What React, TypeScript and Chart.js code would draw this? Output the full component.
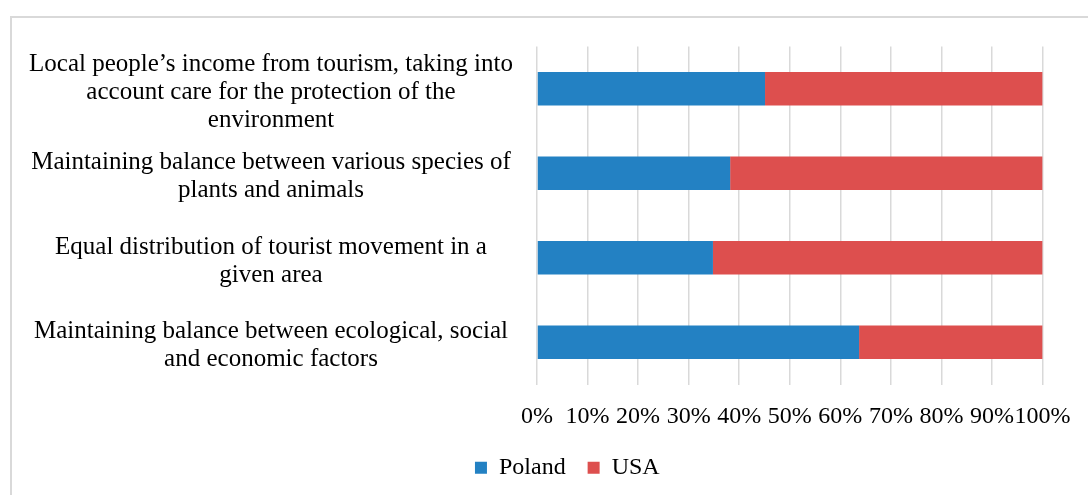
import React, { useEffect, useRef } from "react";
import { Chart, registerables } from "chart.js";

Chart.register(...registerables);

const FONT = '"Liberation Serif", "Times New Roman", serif';

const categories: string[][] = [
  ["Local people’s income from tourism, taking into", "account care for the protection of the", "environment"],
  ["Maintaining balance between various species of", "plants and animals"],
  ["Equal distribution of tourist movement in a", "given area"],
  ["Maintaining balance between ecological, social", "and economic factors"],
];

const seriesNames = ["Poland", "USA"];
const polandValues = [45.1, 38.2, 34.8, 63.7];
const usaValues = [54.9, 61.8, 65.2, 36.3];
const seriesColors = ["#2381c3", "#dd4f4e"];

const xMin = 0;
const xMax = 100;
const xStep = 10;

const LABEL_SIZE = 25;

export default function App() {
  const ref = useRef<HTMLCanvasElement>(null);

  useEffect(() => {
    const canvas = ref.current!;
    const ctx = canvas.getContext("2d")!;
    ctx.font = `${LABEL_SIZE}px ${FONT}`;
    let widest = 0;
    categories.forEach((lines) =>
      lines.forEach((l) => {
        widest = Math.max(widest, ctx.measureText(l).width);
      })
    );
    const yPad = 537 - 271 - widest / 2;

    const chart = new Chart(canvas, {
      type: "bar",
      data: {
        labels: categories,
        datasets: [
          {
            label: seriesNames[0],
            data: polandValues,
            backgroundColor: seriesColors[0],
            borderWidth: 0,
            barPercentage: 0.397,
            categoryPercentage: 1,
          },
          {
            label: seriesNames[1],
            data: usaValues,
            backgroundColor: seriesColors[1],
            borderWidth: 0,
            barPercentage: 0.397,
            categoryPercentage: 1,
          },
        ],
      },
      options: {
        indexAxis: "y",
        responsive: false,
        animation: false,
        layout: { padding: { left: 91.6, right: 45, top: 46.4, bottom: 5.3 } },
        plugins: {
          legend: {
            position: "bottom",
            labels: {
              font: { family: FONT, size: 24 },
              color: "#000",
              boxWidth: 12,
              boxHeight: 12,
              padding: 22,
            },
          },
          tooltip: { enabled: false },
        },
        scales: {
          x: {
            stacked: true,
            min: xMin,
            max: xMax,
            grid: { color: "#d9d9d9", lineWidth: 1.5, drawTicks: false },
            border: { display: false },
            ticks: {
              stepSize: xStep,
              autoSkip: false,
              maxRotation: 0,
              minRotation: 0,
              padding: 17.4,
              color: "#000",
              font: { family: FONT, size: 24, lineHeight: 1.2 },
              callback: (v: any) => v + "%",
            },
            afterFit: (s: any) => {
              s.height = 49.2;
            },
          },
          y: {
            stacked: true,
            grid: { display: false, drawTicks: false },
            border: { display: false },
            ticks: {
              crossAlign: "center",
              padding: yPad,
              labelOffset: 3.5,
              autoSkip: false,
              color: "#000",
              font: { family: FONT, size: LABEL_SIZE, lineHeight: 28 / LABEL_SIZE },
            },
            afterFit: (s: any) => {
              s.width = 445.4;
              s.paddingTop = 0;
              s.paddingBottom = 0;
              s._computeLabelArea = () => undefined;
            },
          },
        },
      },
    } as any);
    return () => chart.destroy();
  }, []);

  return (
    <div
      style={{
        position: "fixed",
        left: 0,
        top: 0,
        width: 1088,
        height: 495,
        overflow: "hidden",
        background: "#fff",
      }}
    >
      <div
        style={{
          position: "absolute",
          left: 10,
          top: 16,
          width: 1200,
          height: 600,
          borderTop: "2px solid #d9d9d9",
          borderLeft: "2px solid #d9d9d9",
        }}
      />
      <canvas
        ref={ref}
        width={1088}
        height={495}
        style={{ position: "absolute", left: 0, top: 0, width: 1088, height: 495 }}
      />
    </div>
  );
}
